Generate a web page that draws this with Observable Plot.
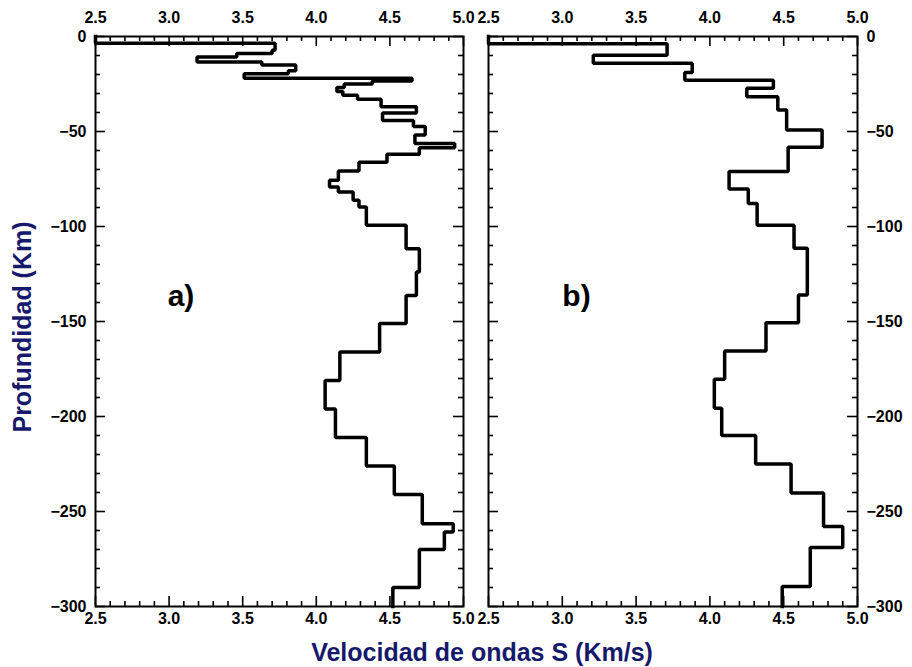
<!DOCTYPE html>
<html>
<head>
<meta charset="utf-8">
<script src="https://cdn.jsdelivr.net/npm/d3@7"></script>
<script src="https://cdn.jsdelivr.net/npm/@observablehq/plot@0.6"></script>
<style>
  body { margin: 0; background: #fff; }
  #fig { position: relative; width: 912px; height: 667px; background: #fff; overflow: hidden;
         font-family: "Liberation Sans", Arial, sans-serif; }
  #fig svg { position: absolute; top: 0; }
  .title { position: absolute; color: #16196b; font-weight: bold; font-size: 25px; white-space: nowrap; }
</style>
</head>
<body>
<div id="fig"></div>
<script>
// Shear-wave velocity models: top depth of each layer (km) and its Vs (km/s).
// Model a)
const layerTopA = [0, -3.6, -7.3, -8.9, -10.8, -13.4, -15.0, -18.0, -19.6, -22.0, -23.4, -25.0,
  -26.8, -29.0, -30.9, -33.0, -37.0, -40.2, -44.2, -47.4, -51.9, -56.3, -58.6, -62.0, -66.2,
  -70.8, -75.7, -79.2, -81.9, -86.2, -89.8, -99.4, -111.7, -124.0, -136.3, -151.0, -166.0,
  -181.0, -196.0, -211.0, -226.0, -241.0, -256.4, -260.8, -270.0, -290.0];
const velocityA = [2.5, 3.72, 3.70, 3.46, 3.19, 3.63, 3.86, 3.81, 3.51, 4.65, 4.38, 4.19,
  4.14, 4.18, 4.28, 4.44, 4.68, 4.45, 4.66, 4.74, 4.67, 4.94, 4.70, 4.48, 4.29,
  4.15, 4.09, 4.15, 4.25, 4.29, 4.34, 4.61, 4.70, 4.68, 4.61, 4.43, 4.16,
  4.06, 4.13, 4.34, 4.53, 4.72, 4.93, 4.87, 4.70, 4.52];

// Model b)
const layerTopB = [0, -3.8, -9.9, -14.1, -19.0, -23.0, -27.3, -31.7, -38.7, -49.2, -58.3, -71.0,
  -80.3, -87.9, -99.3, -111.5, -136.0, -150.6, -165.5, -180.4, -195.7, -210.0, -225.0,
  -240.3, -257.9, -268.9, -289.5];
const velocityB = [2.5, 3.71, 3.21, 3.88, 3.83, 4.43, 4.25, 4.46, 4.52, 4.76, 4.53, 4.13,
  4.26, 4.32, 4.57, 4.66, 4.60, 4.38, 4.10, 4.03, 4.08, 4.31, 4.55,
  4.77, 4.90, 4.68, 4.49];

// Axes
const velDomain = [2.5, 5.0];
const depthDomain = [-300, 0];
const velMajor = [2.5, 3.0, 3.5, 4.0, 4.5, 5.0];
const velMinor = [2.6, 2.7, 2.8, 2.9, 3.1, 3.2, 3.3, 3.4, 3.6, 3.7, 3.8, 3.9, 4.1, 4.2, 4.3, 4.4, 4.6, 4.7, 4.8, 4.9];
const depthMajor = [0, -50, -100, -150, -200, -250, -300];
const depthMinor = d3.range(-290, 0, 10).filter(d => d % 50 !== 0);

// Panel tags
const tagA = [{v: 2.99, d: -137, label: "a)"}];
const tagB = [{v: 3.0, d: -137, label: "b)"}];

const fmtVel = d3.format(".1f");

const HEIGHT = 640, MT = 36, MB = 34;
const MAJOR = 10, MINOR = 5;

// Turn layers into the outline of a step profile.
function profile(tops, vels) {
  return tops.flatMap((t, i) => [
    {v: vels[i], d: t},
    {v: vels[i], d: i + 1 < tops.length ? tops[i + 1] : depthDomain[0]}
  ]);
}

// Short inward ticks along the frame, trimmed from full-height tick marks.
function frameTicks(innerW, innerH) {
  const tk = {stroke: "black", strokeWidth: 1.6};
  return [
    Plot.tickX(velMajor, {x: d => d, insetTop: innerH - MAJOR, ...tk}),
    Plot.tickX(velMinor, {x: d => d, insetTop: innerH - MINOR, ...tk}),
    Plot.tickX(velMajor, {x: d => d, insetBottom: innerH - MAJOR, ...tk}),
    Plot.tickX(velMinor, {x: d => d, insetBottom: innerH - MINOR, ...tk}),
    Plot.tickY(depthMajor, {y: d => d, insetRight: innerW - MAJOR, ...tk}),
    Plot.tickY(depthMinor, {y: d => d, insetRight: innerW - MINOR, ...tk}),
    Plot.tickY(depthMajor, {y: d => d, insetLeft: innerW - MAJOR, ...tk}),
    Plot.tickY(depthMinor, {y: d => d, insetLeft: innerW - MINOR, ...tk})
  ];
}

function panel({tops, vels, tag, width, marginLeft, marginRight, labelSide}) {
  const innerW = width - marginLeft - marginRight;
  const innerH = HEIGHT - MT - MB;
  return Plot.plot({
    width, height: HEIGHT,
    marginTop: MT, marginBottom: MB, marginLeft, marginRight,
    style: {background: "transparent", fontFamily: "'Liberation Sans', Arial, sans-serif",
            fontSize: "16px", fontWeight: "bold", color: "black", overflow: "visible"},
    x: {domain: velDomain},
    y: {domain: depthDomain},
    marks: [
      ...frameTicks(innerW, innerH),
      // tick labels
      Plot.axisX({anchor: "top", ticks: velMajor, tickSize: 0, tickPadding: 14, tickFormat: fmtVel, label: null}),
      Plot.axisX({anchor: "bottom", ticks: velMajor, tickSize: 0, tickPadding: 6, tickFormat: fmtVel, label: null}),
      Plot.axisY({anchor: labelSide, ticks: depthMajor, tickSize: 0, tickPadding: 9, label: null}),
      Plot.frame({strokeWidth: 2}),
      Plot.line(profile(tops, vels), {x: "v", y: "d", stroke: "black", strokeWidth: 3.5,
                                      strokeLinejoin: "miter", strokeLinecap: "square"}),
      Plot.text(tag, {x: "v", y: "d", text: "label", textAnchor: "start", fontSize: 30, fontWeight: "bold"})
    ]
  });
}

const fig = document.getElementById("fig");

const left = panel({tops: layerTopA, vels: velocityA, tag: tagA, width: 476, marginLeft: 95, marginRight: 13, labelSide: "left"});
left.style.left = "0px";
fig.appendChild(left);

const right = panel({tops: layerTopB, vels: velocityB, tag: tagB, width: 436, marginLeft: 12, marginRight: 55, labelSide: "right"});
right.style.left = "476px";
fig.appendChild(right);

const xTitle = document.createElement("div");
xTitle.className = "title";
xTitle.textContent = "Velocidad de ondas S (Km/s)";
xTitle.style.left = "482px";
xTitle.style.top = "652px";
xTitle.style.transform = "translate(-50%, -50%)";
fig.appendChild(xTitle);

const yTitle = document.createElement("div");
yTitle.className = "title";
yTitle.textContent = "Profundidad (Km)";
yTitle.style.left = "22px";
yTitle.style.top = "327px";
yTitle.style.transform = "translate(-50%, -50%) rotate(-90deg)";
fig.appendChild(yTitle);
</script>
</body>
</html>
